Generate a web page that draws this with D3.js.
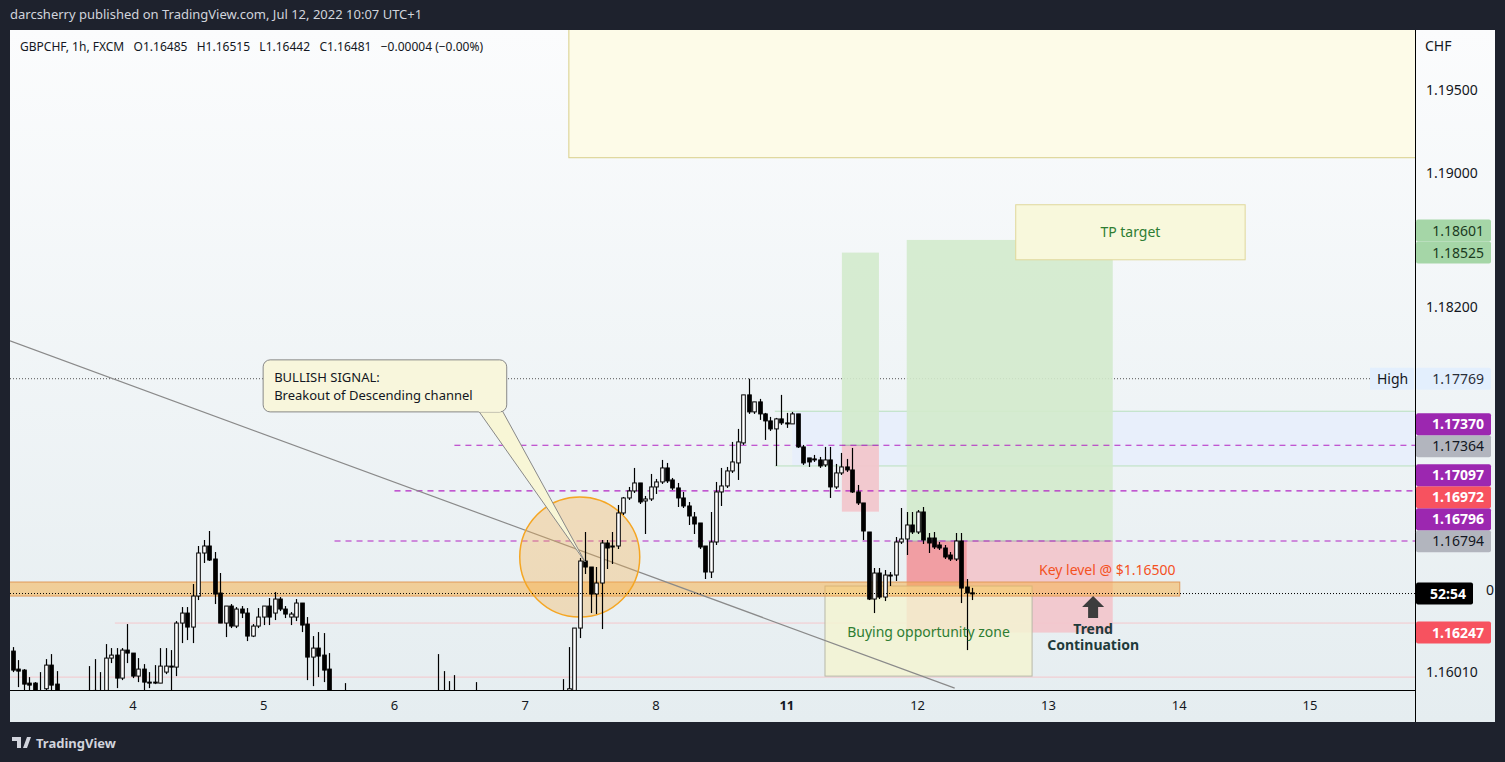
<!DOCTYPE html>
<html><head><meta charset="utf-8">
<script src="https://cdn.jsdelivr.net/npm/d3@7"></script>
<style>body{margin:0;background:#1e222d;overflow:hidden}svg{display:block}text{font-family:"Noto Sans",sans-serif}</style>
</head><body><svg id="c" width="1505" height="762"></svg>
<script>
// ---- DATA ----
const candles = [ // [open, high, low, close], hourly, index = hour from start
[1.16136,1.1616,1.1601,1.16022],[1.16028,1.16082,1.1592,1.16016],[1.16022,1.16028,1.159,1.15938],[1.15944,1.1598,1.159,1.15932],
[1.15944,1.1595,1.1588,1.1589],[1.1589,1.1601,1.1587,1.1589],[1.1591,1.16088,1.159,1.16052],[1.16052,1.16118,1.159,1.15932],
[1.15938,1.16016,1.1587,1.1588],[1.1588,1.159,1.1584,1.1586],[1.1586,1.1589,1.1583,1.1585],[1.1585,1.1589,1.1582,1.1587],
[1.1587,1.159,1.1584,1.1588],[1.1588,1.159,1.1585,1.1586],[1.1587,1.16046,1.1584,1.1589],[1.159,1.16088,1.1585,1.1587],
[1.1587,1.1601,1.1584,1.1589],[1.159,1.16178,1.1588,1.16094],[1.16094,1.16154,1.16064,1.16112],[1.16112,1.16154,1.15914,1.15974],
[1.15974,1.16154,1.15962,1.16142],[1.16142,1.16298,1.16064,1.16124],[1.16124,1.16124,1.15974,1.15986],[1.15986,1.16094,1.1595,1.16028],
[1.16028,1.16058,1.159,1.1595],[1.1595,1.1601,1.15914,1.15944],[1.15944,1.16052,1.15938,1.1595],[1.15944,1.16154,1.15944,1.16046],
[1.1601,1.16154,1.15998,1.16046],[1.16046,1.16142,1.159,1.1604],[1.1604,1.16316,1.15986,1.16304],[1.16304,1.164,1.16184,1.16364],
[1.16364,1.164,1.16202,1.1628],[1.1628,1.16538,1.16184,1.16466],[1.16466,1.16766,1.16442,1.16724],[1.16724,1.16802,1.16664,1.16766],
[1.16766,1.16856,1.16676,1.16682],[1.16688,1.1673,1.16418,1.16478],[1.16484,1.16604,1.16304,1.16304],[1.16304,1.16406,1.1622,1.16406],
[1.16406,1.16418,1.16274,1.16286],[1.16286,1.164,1.16274,1.16388],[1.16388,1.16406,1.16334,1.16364],[1.16364,1.16394,1.16196,1.16226],
[1.16226,1.16298,1.1622,1.16286],[1.16286,1.16394,1.16274,1.1634],[1.1634,1.16406,1.16292,1.16406],[1.16406,1.16454,1.16292,1.1634],
[1.16364,1.1649,1.16322,1.16448],[1.16448,1.1646,1.16376,1.16388],[1.16388,1.16406,1.16334,1.16358],[1.1634,1.1637,1.16292,1.16358],
[1.1634,1.16448,1.16316,1.16424],[1.16424,1.16424,1.1625,1.16292],[1.16298,1.1634,1.15962,1.161],[1.161,1.16226,1.15926,1.16154],
[1.16154,1.1625,1.1598,1.16106],[1.16112,1.16244,1.1595,1.16022],[1.16028,1.16124,1.1587,1.1589],[1.1589,1.159,1.1582,1.1584],
[1.1584,1.1589,1.158,1.1583],[1.1583,1.15944,1.158,1.1585],[1.1585,1.1588,1.1579,1.1581],[1.1581,1.1586,1.1577,1.1579],
[1.1579,1.1583,1.1574,1.1576],[1.1576,1.1581,1.1573,1.1578],[1.1578,1.1584,1.1575,1.1582],[1.1582,1.1587,1.1579,1.158],
[1.158,1.1583,1.1575,1.1577],[1.1577,1.158,1.1572,1.1574],[1.1574,1.1579,1.1571,1.1577],[1.1577,1.1582,1.1574,1.1579],
[1.1579,1.1585,1.1576,1.1583],[1.1583,1.1588,1.1579,1.158],[1.158,1.1584,1.1576,1.1578],[1.1578,1.1583,1.1575,1.1581],
[1.1581,1.1586,1.1578,1.158],[1.158,1.1584,1.1577,1.1582],[1.158,1.16118,1.1578,1.1584],[1.1584,1.16016,1.1581,1.1583],
[1.1583,1.15956,1.158,1.1585],[1.1585,1.15992,1.1582,1.1584],[1.1584,1.1588,1.1579,1.1581],[1.1581,1.1586,1.1577,1.1583],
[1.1583,1.1587,1.1578,1.1583],[1.1583,1.1595,1.158,1.1584],[1.1584,1.1588,1.1579,1.1582],[1.1582,1.1585,1.1575,1.1577],
[1.1577,1.1581,1.1571,1.1573],[1.1573,1.1578,1.1569,1.1576],[1.1576,1.158,1.1572,1.1574],[1.1574,1.1577,1.1568,1.157],
[1.157,1.1575,1.1566,1.1572],[1.1572,1.1578,1.1569,1.1576],[1.1576,1.1581,1.1573,1.1579],[1.1579,1.1584,1.1575,1.1577],
[1.1577,1.1582,1.1574,1.158],[1.158,1.1585,1.1577,1.1583],[1.1583,1.1588,1.1579,1.1581],[1.1581,1.1586,1.1578,1.1584],
[1.1584,1.1587,1.158,1.1585],[1.1585,1.15968,1.1582,1.1587],
[1.1588,1.1616,1.1585,1.1591],[1.159,1.16274,1.1588,1.16274],[1.16274,1.16694,1.16214,1.16676],[1.16676,1.1685,1.16598,1.1664],
[1.1664,1.1664,1.16364,1.16478],[1.16478,1.1664,1.16358,1.16544],[1.16544,1.16802,1.16268,1.16784],[1.16784,1.16802,1.16628,1.16754],
[1.1676,1.1685,1.16658,1.16766],[1.16766,1.17012,1.16748,1.16964],[1.16964,1.1706,1.16952,1.17054],[1.17054,1.1712,1.17042,1.17096],
[1.17096,1.17234,1.17084,1.17144],[1.17144,1.17144,1.17018,1.1703],[1.17036,1.17066,1.16838,1.17048],[1.17048,1.17198,1.17036,1.1712],
[1.1712,1.17168,1.17078,1.1715],[1.1715,1.17282,1.17138,1.17234],[1.17234,1.17264,1.17144,1.17156],[1.17162,1.17174,1.17102,1.17114],
[1.17114,1.17144,1.17,1.17054],[1.17054,1.1709,1.16994,1.17006],[1.17006,1.1703,1.16892,1.16946],[1.1694,1.1697,1.16838,1.16898],
[1.16904,1.16904,1.16748,1.1676],[1.16766,1.16766,1.16568,1.1661],[1.1661,1.1697,1.16574,1.1679],[1.1679,1.1715,1.16772,1.1709],
[1.1709,1.17234,1.17006,1.17126],[1.17126,1.1724,1.17114,1.17216],[1.17216,1.1739,1.17204,1.1727],[1.17264,1.17468,1.17162,1.1739],
[1.17384,1.17672,1.17372,1.17672],[1.17672,1.17769,1.17558,1.1757],[1.1757,1.1763,1.17558,1.1763],[1.1763,1.17648,1.17522,1.17558],
[1.17558,1.17564,1.17402,1.17516],[1.17516,1.1754,1.17456,1.17468],[1.17468,1.17534,1.17246,1.17528],[1.17528,1.17672,1.17492,1.17504],
[1.17504,1.17564,1.17474,1.17498],[1.17498,1.1757,1.17498,1.17558],[1.17558,1.17558,1.17354,1.1736],[1.1736,1.17372,1.17252,1.17264],
[1.17294,1.17294,1.1724,1.1727],[1.17288,1.17312,1.1727,1.17282],[1.17282,1.173,1.17234,1.17246],[1.17252,1.1736,1.1724,1.17282],
[1.17282,1.1736,1.17054,1.1712],[1.1712,1.17258,1.17108,1.17204],[1.17204,1.17324,1.17192,1.1724],[1.1724,1.17288,1.1721,1.17222],
[1.17222,1.17354,1.17084,1.1709],[1.1709,1.17132,1.17012,1.17024],[1.17024,1.17024,1.16802,1.16856],[1.1685,1.1685,1.16442,1.16448],
[1.16448,1.16634,1.16364,1.16604],[1.16604,1.16634,1.16448,1.1646],[1.1646,1.16622,1.16436,1.16592],[1.16592,1.1661,1.16526,1.16586],
[1.16592,1.1682,1.16556,1.1679],[1.1679,1.16994,1.16778,1.16808],[1.16808,1.1697,1.16712,1.16892],[1.16892,1.1697,1.16838,1.1685],
[1.1685,1.16982,1.16838,1.1697],[1.1697,1.17,1.16778,1.16802],[1.16814,1.16844,1.16724,1.16784],[1.16814,1.1685,1.16748,1.1676],
[1.16772,1.1679,1.16742,1.16754],[1.16754,1.16772,1.16688,1.167],[1.16712,1.1673,1.16676,1.16688],[1.16688,1.16844,1.16676,1.16796],
[1.16796,1.16844,1.16424,1.16514],[1.1652,1.16568,1.16142,1.16484],[1.16485,1.16515,1.16442,1.16481]
];
const dayTicks = [22,46,70,94,118,142,166,190,214,238];
const dayLabels = ["4","5","6","7","8","11","12","13","14","15"];
const priceTicks = [1.195,1.19,1.182,1.1601];
const priceTickLabels = ["1.19500","1.19000","1.18200","1.16010"];
const tags = [ // price, label, background, text colour
 [1.18601,"1.18601","#a5d6a7","#1b3a1e"],[1.18525,"1.18525","#a5d6a7","#1b3a1e"],
 [1.17769,"1.17769","#e3effd","#2a2e39"],
 [1.17370,"1.17370","#9c27b0","#ffffff"],[1.17364,"1.17364","#b2b5be","#131722"],
 [1.17097,"1.17097","#9c27b0","#ffffff"],[1.16972,"1.16972","#f7525f","#ffffff"],
 [1.16796,"1.16796","#9c27b0","#ffffff"],[1.16794,"1.16794","#b2b5be","#131722"],
 [1.16481,"52:54","#000000","#ffffff"],[1.16247,"1.16247","#f7525f","#ffffff"]
];
const highPrice = 1.17769;
const keyLevel = [1.16466,1.1655];
const magentaLines = [[1.1737,81],[1.17097,70],[1.16796,59]];
const greenLines = [1.17574,1.17246];
const pinkLines = [[1.16304,18.7],[1.1598,-1]];
const trendLine = [[-0.55,1.17996],[172.8,1.15914]];
const pos1 = {i0:152.1,i1:158.9,target:1.18525,entry:1.1737,stop:1.16972};
const pos2 = {i0:164,i1:201.8,iPrice:175,target:1.18601,entry:1.16796,stop:1.16247};
const buyZone = {i0:149,i1:187,top:1.16526,bottom:1.15986};
const tpBox = {i0:184,i1:226.1,top:1.18812,bottom:1.18482};
const topBox = {i0:102,bottom:1.19094};
const callout = {i0:45.9,i1:90.6,top:1.17882,bottom:1.1757,tailA:85.3,tailB:89.7,tipI:105,tipP:1.1667};
const circle = {i:104,p:1.167};
const arrow = {i:198.2,top:1.16466,bottom:1.16334};

// ---- LAYOUT ----
const L=10,R=1415,T=30,B=690;
const svg=d3.select("#c");
const x=d3.scaleLinear().domain([0,238]).range([13,1310]);
const y=d3.scaleLinear().domain([1.16796,1.195]).range([541,90]);
const defs=svg.append("defs");
const g1=defs.append("linearGradient").attr("id","bg").attr("x1",0).attr("y1",0).attr("x2",0).attr("y2",1);
g1.append("stop").attr("offset","0").attr("stop-color","#fbfcfd");
g1.append("stop").attr("offset","1").attr("stop-color","#e5edf0");
defs.append("clipPath").attr("id","clip").append("rect").attr("x",L).attr("y",T).attr("width",R-L).attr("height",B-T);
defs.append("clipPath").attr("id","tclip").append("rect").attr("x",1475).attr("y",570).attr("width",30).attr("height",40);

svg.append("rect").attr("x",0).attr("y",0).attr("width",1505).attr("height",762).attr("fill","#1e222d");
svg.append("rect").attr("x",L).attr("y",T).attr("width",1495-L).attr("height",722-T).attr("fill","url(#bg)");
svg.append("text").attr("x",10).attr("y",19).attr("fill","#d1d4dc").attr("font-size",13)
 .text("darcsherry published on TradingView.com, Jul 12, 2022 10:07 UTC+1");

const P=svg.append("g").attr("clip-path","url(#clip)");
const rect=(o)=>P.append("rect").attr("x",x(o.i0)).attr("width",x(o.i1)-x(o.i0)).attr("y",y(o.top)).attr("height",y(o.bottom)-y(o.top));

P.append("rect").attr("x",x(topBox.i0)).attr("y",T-5).attr("width",R+5-x(topBox.i0)).attr("height",y(topBox.bottom)-T+5)
 .attr("fill","#fdfbe8").attr("stroke","#d9cf8a").attr("stroke-width",1);
P.append("rect").attr("x",x(143)).attr("y",y(greenLines[0])).attr("width",R-x(143)).attr("height",y(greenLines[1])-y(greenLines[0])).attr("fill","#e6eefc").attr("opacity",0.8);
greenLines.forEach(p=>P.append("line").attr("x1",x(139.8)).attr("x2",R).attr("y1",y(p)).attr("y2",y(p)).attr("stroke","#b9e0bd"));
pinkLines.forEach(([p,i])=>P.append("line").attr("x1",x(i)).attr("x2",R).attr("y1",y(p)).attr("y2",y(p)).attr("stroke","#f4c7cc"));
P.append("line").attr("x1",L).attr("x2",1370).attr("y1",y(highPrice)).attr("y2",y(highPrice)).attr("stroke","#555").attr("stroke-dasharray","1,2");
[pos1,pos2].forEach(p=>{
 rect({i0:p.i0,i1:p.i1,top:p.target,bottom:p.entry}).attr("fill","#d3eacc").attr("opacity",0.9);
 rect({i0:p.i0,i1:p.i1,top:p.entry,bottom:p.stop}).attr("fill","#f2c6cc").attr("opacity",0.95);
});
rect({i0:pos2.i0,i1:pos2.iPrice,top:pos2.entry,bottom:pos2.stop}).attr("fill","#f19ea3");
P.append("line").attr("x1",x(pos2.i0)).attr("x2",x(pos2.i1)).attr("y1",y(pos2.entry)).attr("y2",y(pos2.entry)).attr("stroke","#aaa");
P.append("line").attr("x1",x(pos1.i0)).attr("x2",x(pos1.i1)).attr("y1",y(pos1.entry)).attr("y2",y(pos1.entry)).attr("stroke","#aaa");
rect(tpBox).attr("fill","#f8f8dc").attr("stroke","#e0d89a");
P.append("text").attr("x",(x(tpBox.i0)+x(tpBox.i1))/2).attr("y",(y(tpBox.top)+y(tpBox.bottom))/2+5).attr("text-anchor","middle").attr("fill","#2e7d32").attr("font-size",14).text("TP target");
rect(buyZone).attr("fill","#f3f3d2").attr("fill-opacity",0.85).attr("stroke","#b8b8a8");
P.append("rect").attr("x",x(-1)).attr("width",x(214.1)-x(-1)).attr("y",y(keyLevel[1])).attr("height",y(keyLevel[0])-y(keyLevel[1]))
 .attr("fill","#f5b24f").attr("fill-opacity",0.55).attr("stroke","#e09a5a");
magentaLines.forEach(([p,i])=>P.append("line").attr("x1",x(i)).attr("x2",R).attr("y1",y(p)).attr("y2",y(p)).attr("stroke","#b225c4").attr("stroke-width",1.2).attr("stroke-dasharray","6,5"));
P.append("line").attr("x1",x(trendLine[0][0])).attr("y1",y(trendLine[0][1])).attr("x2",x(trendLine[1][0])).attr("y2",y(trendLine[1][1])).attr("stroke","#8a8a8a").attr("stroke-width",1.2);
P.append("circle").attr("cx",x(circle.i)).attr("cy",y(circle.p)).attr("r",60).attr("fill","#f5b24f").attr("fill-opacity",0.35).attr("stroke","#f5a623").attr("stroke-width",1.5);
const bw=3.6;
const cg=P.append("g");
candles.forEach((c,i)=>{
 const [o,h,l,cl]=c, up=cl>=o, cx=Math.round(x(i))+0.5;
 cg.append("line").attr("x1",cx).attr("x2",cx).attr("y1",y(h)).attr("y2",y(l)).attr("stroke","#000").attr("stroke-width",1.2);
 const t=y(Math.max(o,cl)), b=y(Math.min(o,cl));
 cg.append("rect").attr("x",cx-bw/2).attr("y",t).attr("width",bw).attr("height",Math.max(1,b-t))
  .attr("fill",up?"#fff":"#000").attr("stroke","#000").attr("stroke-width",1);
});
const last=candles[candles.length-1][3];
P.append("line").attr("x1",L).attr("x2",R).attr("y1",y(last)).attr("y2",y(last)).attr("stroke","#000").attr("stroke-dasharray","1,2");
P.append("text").attr("x",x(200.8)).attr("y",y(1.16622)+5).attr("text-anchor","middle").attr("fill","#f4511e").attr("font-size",14).text("Key level @ $1.16500");
P.append("text").attr("x",(x(buyZone.i0)+x(buyZone.i1))/2).attr("y",y(1.1625)+5).attr("text-anchor","middle").attr("fill","#2e7d32").attr("font-size",14).text("Buying opportunity zone");
const ax=x(arrow.i), at=y(arrow.top), ab=y(arrow.bottom);
P.append("path").attr("d",`M${ax},${at} L${ax+11},${at+11} L${ax+5},${at+11} L${ax+5},${ab} L${ax-5},${ab} L${ax-5},${at+11} L${ax-11},${at+11} Z`).attr("fill","#3d3d3d");
P.append("text").attr("x",ax).attr("y",ab+16).attr("text-anchor","middle").attr("font-weight","bold").attr("fill","#1f3b3b").attr("font-size",14).text("Trend");
P.append("text").attr("x",ax).attr("y",ab+32).attr("text-anchor","middle").attr("font-weight","bold").attr("fill","#1f3b3b").attr("font-size",14).text("Continuation");
const cx0=x(callout.i0),cx1=x(callout.i1),cy0=y(callout.top),cy1=y(callout.bottom);
P.append("path").attr("d",`M${x(callout.tailA)},${cy1-2} L${x(callout.tipI)},${y(callout.tipP)} L${x(callout.tailB)},${cy1-2}`).attr("fill","#f8f6d6").attr("stroke","#888");
P.append("rect").attr("x",cx0).attr("y",cy0).attr("width",cx1-cx0).attr("height",cy1-cy0).attr("rx",7).attr("fill","#f8f6dc").attr("stroke","#888");
P.append("path").attr("d",`M${x(callout.tailA)+1},${cy1-1} L${x(callout.tailB)-1},${cy1-1}`).attr("stroke","#f8f6dc").attr("stroke-width",2);
P.append("text").attr("x",cx0+11).attr("y",cy0+22).attr("font-size",13).attr("fill","#131722").text("BULLISH SIGNAL:");
P.append("text").attr("x",cx0+11).attr("y",cy0+40).attr("font-size",13).attr("fill","#131722").text("Breakout of Descending channel");

svg.append("text").attr("x",20).attr("y",51).attr("font-size",12).attr("fill","#131722").attr("xml:space","preserve")
 .text("GBPCHF, 1h, FXCM   O1.16485   H1.16515   L1.16442   C1.16481   −0.00004 (−0.00%)");
svg.append("line").attr("x1",R+0.5).attr("x2",R+0.5).attr("y1",T).attr("y2",722).attr("stroke","#000");
svg.append("line").attr("x1",L).attr("x2",R).attr("y1",B+0.5).attr("y2",B+0.5).attr("stroke","#000");
svg.append("text").attr("x",1425).attr("y",51).attr("font-size",14).attr("fill","#131722").text("CHF");
priceTicks.forEach((p,k)=>svg.append("text").attr("x",1426).attr("y",y(p)+5).attr("font-size",14).attr("fill","#131722").text(priceTickLabels[k]));
svg.append("g").attr("clip-path","url(#tclip)").append("text").attr("x",1494).attr("y",y(1.165)+5).attr("text-anchor","end").attr("font-size",14).attr("fill","#131722").text("0");
dayTicks.forEach((d,k)=>svg.append("text").attr("x",x(d)).attr("y",710).attr("text-anchor","middle").attr("font-size",13)
 .attr("font-weight",dayLabels[k]==="11"?"bold":"normal").attr("fill","#131722").text(dayLabels[k]));
const tg=tags.map(t=>({p:t[0],lab:t[1],bg:t[2],fg:t[3],y:y(t[0])})).sort((a,b)=>b.y-a.y||a.p-b.p);
for(let k=1;k<tg.length;k++){ tg[k].y=Math.min(tg[k].y,tg[k-1].y-22); }
tg.forEach(t=>{
 const w=t.lab==="52:54"?57:75;
 svg.append("rect").attr("x",R+1).attr("y",t.y-11).attr("width",w).attr("height",22).attr("rx",2).attr("fill",t.bg);
 svg.append("text").attr("x",R+1+w-7).attr("y",t.y+5).attr("text-anchor","end").attr("font-size",14).attr("fill",t.fg)
  .attr("font-weight",t.fg==="#ffffff"?"bold":"normal").text(t.lab);
});
svg.append("rect").attr("x",1370).attr("y",y(highPrice)-11).attr("width",44).attr("height",22).attr("fill","#e3effd");
svg.append("text").attr("x",1377).attr("y",y(highPrice)+5).attr("font-size",14).attr("fill","#131722").text("High");
svg.append("rect").attr("x",0).attr("y",722).attr("width",1505).attr("height",40).attr("fill","#1e222d");
svg.append("path").attr("d","M12,737 h9 v11 h-4 v-7 h-5 z M23,748 l4,-11 h4 l-4,11 z").attr("fill","#d1d4dc");
svg.append("text").attr("x",36).attr("y",748).attr("font-size",13).attr("font-weight","bold").attr("fill","#d1d4dc").text("TradingView");
</script></body></html>
